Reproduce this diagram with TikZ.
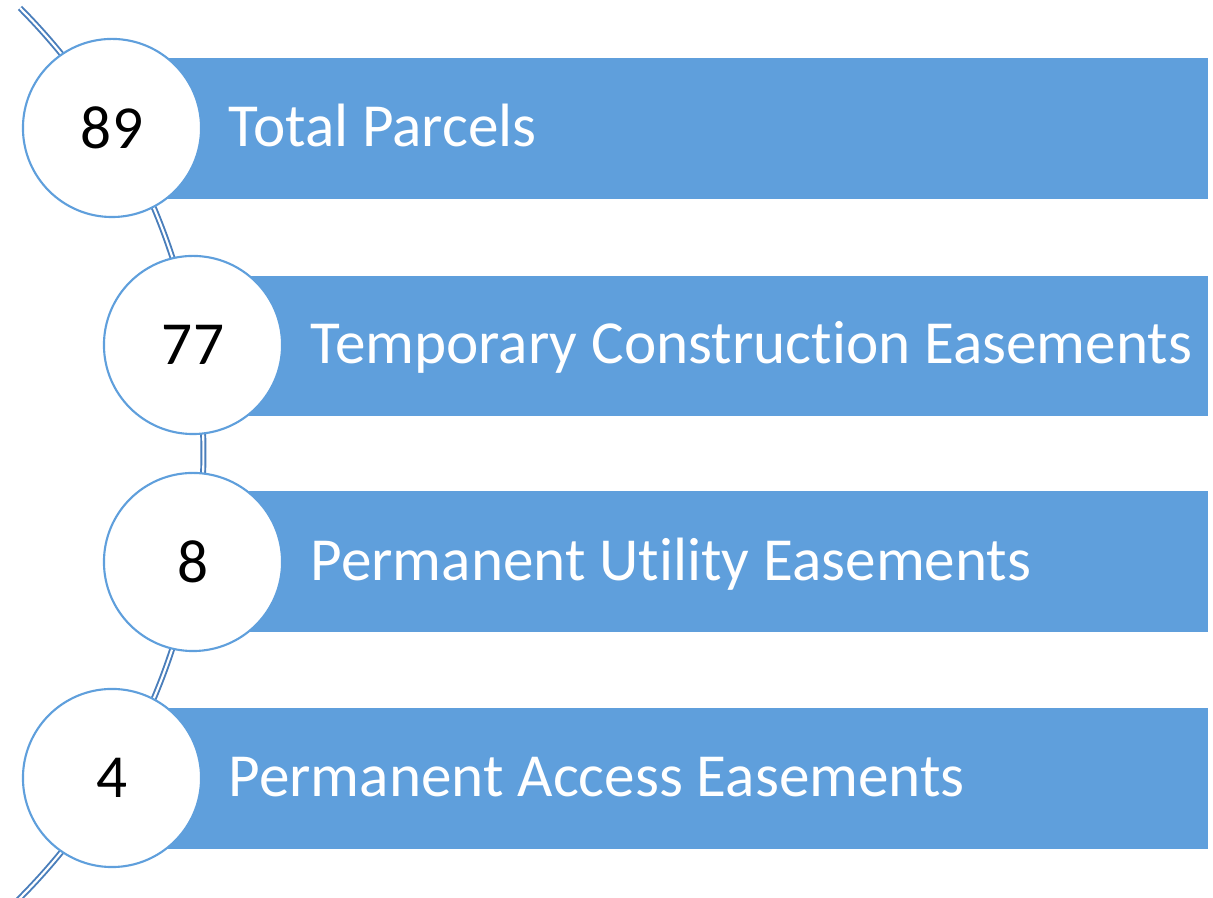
\documentclass[tikz,border=0pt]{standalone}
\usepackage{fontspec}
\setmainfont{Carlito}[Ligatures=NoCommon]
\usepackage{xcolor}
\definecolor{barblue}{HTML}{5F9FDC}
\definecolor{arcblue}{HTML}{4A7EBB}

\begin{document}
\begin{tikzpicture}[x=0.01cm,y=0.01cm,
    num/.style={circle, draw=barblue, fill=white, line width=0.6pt, minimum size=1.78cm, inner sep=0pt, text=black, font=\fontsize{17.4}{20}\selectfont},
    lab/.style={anchor=base west, inner sep=0pt, text=white, font=\fontsize{17.4}{20}\selectfont}]
    \useasboundingbox (0,0) rectangle (1213,898);

    % Arco
    \coordinate (top) at (20,890);
    \draw[arcblue, line width=0.55pt, double=white, double distance=0.6pt] (top) arc[start angle=44.8, end angle=-46, radius=6.312cm];

    % Barre
    \fill[barblue] (112,699) rectangle (1208,840);
    \fill[barblue] (193,482) rectangle (1208,622);
    \fill[barblue] (193,266) rectangle (1208,407);
    \fill[barblue] (112,49) rectangle (1208,190);

    % Cerchi
    \node[num] (c1) at (112,770) {89};
    \node[num] (c2) at (193,553) {77};
    \node[num] (c3) at (193,336) {8};
    \node[num] (c4) at (112,120) {4};

    % Etichette
    \node[lab] (t1) at (228,751) {Total Parcels};
    \node[lab] (t2) at (310,534) {Temporary Construction Easements};
    \node[lab] (t3) at (310,317) {Permanent Utility Easements};
    \node[lab] (t4) at (228,101) {Permanent Access Easements};
\end{tikzpicture}
\end{document}
